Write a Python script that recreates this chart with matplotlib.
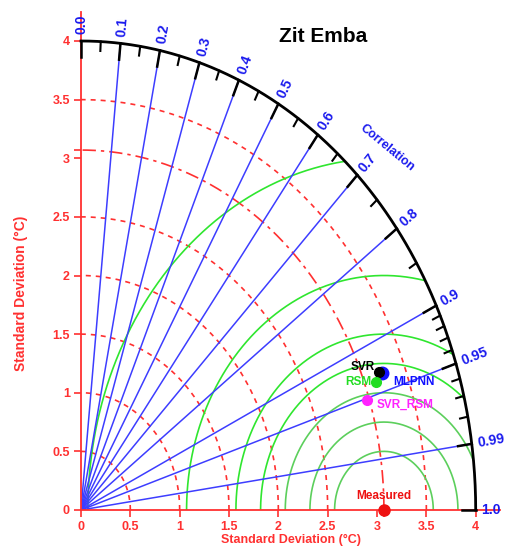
import numpy as np
import matplotlib.pyplot as plt

plt.rcParams['font.family'] = ['Liberation Sans', 'DejaVu Sans']

# data
TITLE = "Zit Emba"
REF_STD = 3.07
MODELS = ["SVR", "MLPNN", "RSM", "SVR_RSM"]
MODEL_STD = [3.24, 3.265, 3.183, 3.045]
MODEL_CORR = [0.932, 0.934, 0.939, 0.951]
STD_TICKS = [0, 0.5, 1, 1.5, 2, 2.5, 3, 3.5, 4]
STD_CIRCLES = [0.5, 1.0, 1.5, 2.0, 2.5, 3.5]
RMS_CIRCLES = [0.5, 0.75, 1.0, 1.25, 1.5, 2.0, 3.0]
CORR_LINES = [0.1, 0.2, 0.3, 0.4, 0.5, 0.6, 0.7, 0.8, 0.9, 0.95, 0.99]
CORR_MAJOR = [0.0, 0.1, 0.2, 0.3, 0.4, 0.5, 0.6, 0.7, 0.8, 0.9, 0.95, 0.99, 1.0]
CORR_MINOR = [0.05, 0.15, 0.25, 0.35, 0.45, 0.55, 0.65, 0.75, 0.85,
              0.91, 0.92, 0.93, 0.94, 0.96, 0.97, 0.98]

RMAX = 4.0
RED = "#ff3030"
BLUE = "#3d3dff"
LABEL_BLUE = "#1a1aee"

# styles per model: colour, marker size, label offset (pt), alignment
STYLE = {
    "SVR": ("black", 7, (-3, 4), "right"),
    "MLPNN": ("#1010ff", 9, (8, -6), "left"),
    "RSM": ("#22dd22", 7, (-3, 0), "right"),
    "SVR_RSM": ("#ff22ff", 7, (7, -3.5), "left"),
}

fig = plt.figure(figsize=(5.05, 5.5), dpi=100)
ax = fig.add_axes([81 / 505, 40 / 550, 394.7 / 505, 469 / 550])
ax.set_xlim(0, RMAX)
ax.set_ylim(0, RMAX)
for s in ax.spines.values():
    s.set_visible(False)

fig.canvas.draw()
p0 = ax.transData.transform((0, 0))
p1 = ax.transData.transform((1, 1))
SX, SY = p1 - p0


def screen_angle(theta):
    return np.degrees(np.arctan2(np.sin(theta) * SY, np.cos(theta) * SX))


# std-dev circles (red dashed) and reference (dash-dot)
t = np.linspace(0, np.pi / 2, 300)
for r in STD_CIRCLES:
    ax.plot(r * np.cos(t), r * np.sin(t), color=RED, lw=1.2, ls=(0, (3, 3)))
ax.plot(REF_STD * np.cos(t), REF_STD * np.sin(t), color=RED, lw=1.2,
        ls=(0, (8, 3, 2, 3)))

# centred RMS circles (green)
tt = np.linspace(0, np.pi, 600)
for r in RMS_CIRCLES:
    x = REF_STD + r * np.cos(tt)
    y = r * np.sin(tt)
    bad = (x ** 2 + y ** 2 > RMAX ** 2) | (x < 0)
    x[bad] = np.nan
    y[bad] = np.nan
    col = "#5ccf5c" if r <= 1.0 else "#2fe62f"
    ax.plot(x, y, color=col, lw=1.2)

# correlation rays
for c in CORR_LINES:
    th = np.arccos(c)
    ax.plot([0, RMAX * np.cos(th)], [0, RMAX * np.sin(th)], color=BLUE, lw=1.1)

# axes lines
ax.plot([0, 0], [0, 4.25], color=RED, lw=1.3, clip_on=False, zorder=3)
ax.plot([0, 4.25], [0, 0], color=RED, lw=1.3, clip_on=False, zorder=3)

# outer arc with ticks
ax.plot(RMAX * np.cos(t), RMAX * np.sin(t), color="black", lw=2, clip_on=False, zorder=4)
for c in CORR_MAJOR:
    th = np.arccos(c)
    ax.plot([(RMAX - 0.14) * np.cos(th), RMAX * np.cos(th)],
            [(RMAX - 0.14) * np.sin(th), RMAX * np.sin(th)],
            color="black", lw=1.8, clip_on=False, zorder=4)
    lab = "%.1f" % c if round(c * 10) == c * 10 else "%.2f" % c
    ax.text((RMAX + 0.06) * np.cos(th), (RMAX + 0.06) * np.sin(th), lab,
            rotation=screen_angle(th), rotation_mode="anchor", ha="left", va="center",
            color=LABEL_BLUE, fontsize=10, fontweight="bold", clip_on=False)
for c in CORR_MINOR:
    th = np.arccos(c)
    ax.plot([(RMAX - 0.08) * np.cos(th), RMAX * np.cos(th)],
            [(RMAX - 0.08) * np.sin(th), RMAX * np.sin(th)],
            color="black", lw=1.5, clip_on=False, zorder=4)

ax.text(3.10, 3.09, "Correlation", rotation=screen_angle(np.arccos(0.7)) - 90,
        ha="center", va="center", color=LABEL_BLUE, fontsize=9, fontweight="bold")

# std ticks
ax.set_xticks(STD_TICKS)
ax.set_yticks(STD_TICKS)
ax.set_xticklabels(["%g" % v for v in STD_TICKS])
ax.set_yticklabels(["%g" % v for v in STD_TICKS])
ax.set_xticks([REF_STD], minor=True)
ax.set_yticks([REF_STD], minor=True)
ax.tick_params(which="both", color=RED, labelcolor=RED, width=1.2, length=5,
               labelsize=9, pad=3)
for lbl in ax.get_xticklabels() + ax.get_yticklabels():
    lbl.set_fontweight("bold")
ax.set_xlabel("Standard Deviation (°C)", color=RED, fontsize=9, fontweight="bold")
ax.set_ylabel("Standard Deviation (°C)", color=RED, fontsize=10, fontweight="bold")
ax.xaxis.set_label_coords((291 - 81) / 394.7, -30 / 469)
ax.yaxis.set_label_coords(-60 / 394.7, (510 - 293) / 469)
ax.xaxis.label.set_va("center")
ax.yaxis.label.set_va("center")

# models
order = ["MLPNN", "SVR", "RSM", "SVR_RSM"]
for name in order:
    i = MODELS.index(name)
    th = np.arccos(MODEL_CORR[i])
    x, y = MODEL_STD[i] * np.cos(th), MODEL_STD[i] * np.sin(th)
    col, ms, off, ha = STYLE[name]
    ax.plot(x, y, "o", color=col, ms=ms, zorder=6)
    ax.annotate(name, (x, y), xytext=off, textcoords="offset points", ha=ha, va="center",
                color=col, fontsize=8.5, fontweight="bold", zorder=7)

ax.plot(REF_STD, 0, "o", color="#ee1111", ms=8, clip_on=False, zorder=6)
ax.annotate("Measured", (REF_STD, 0), xytext=(0, 10), textcoords="offset points",
            ha="center", va="center", color="#ee1111", fontsize=8.5, fontweight="bold")

fig.text(323 / 505, 1 - 36 / 550, TITLE, ha="center", va="center", fontsize=15,
         fontweight="bold", color="black")

fig.savefig("out.png", dpi=100)
